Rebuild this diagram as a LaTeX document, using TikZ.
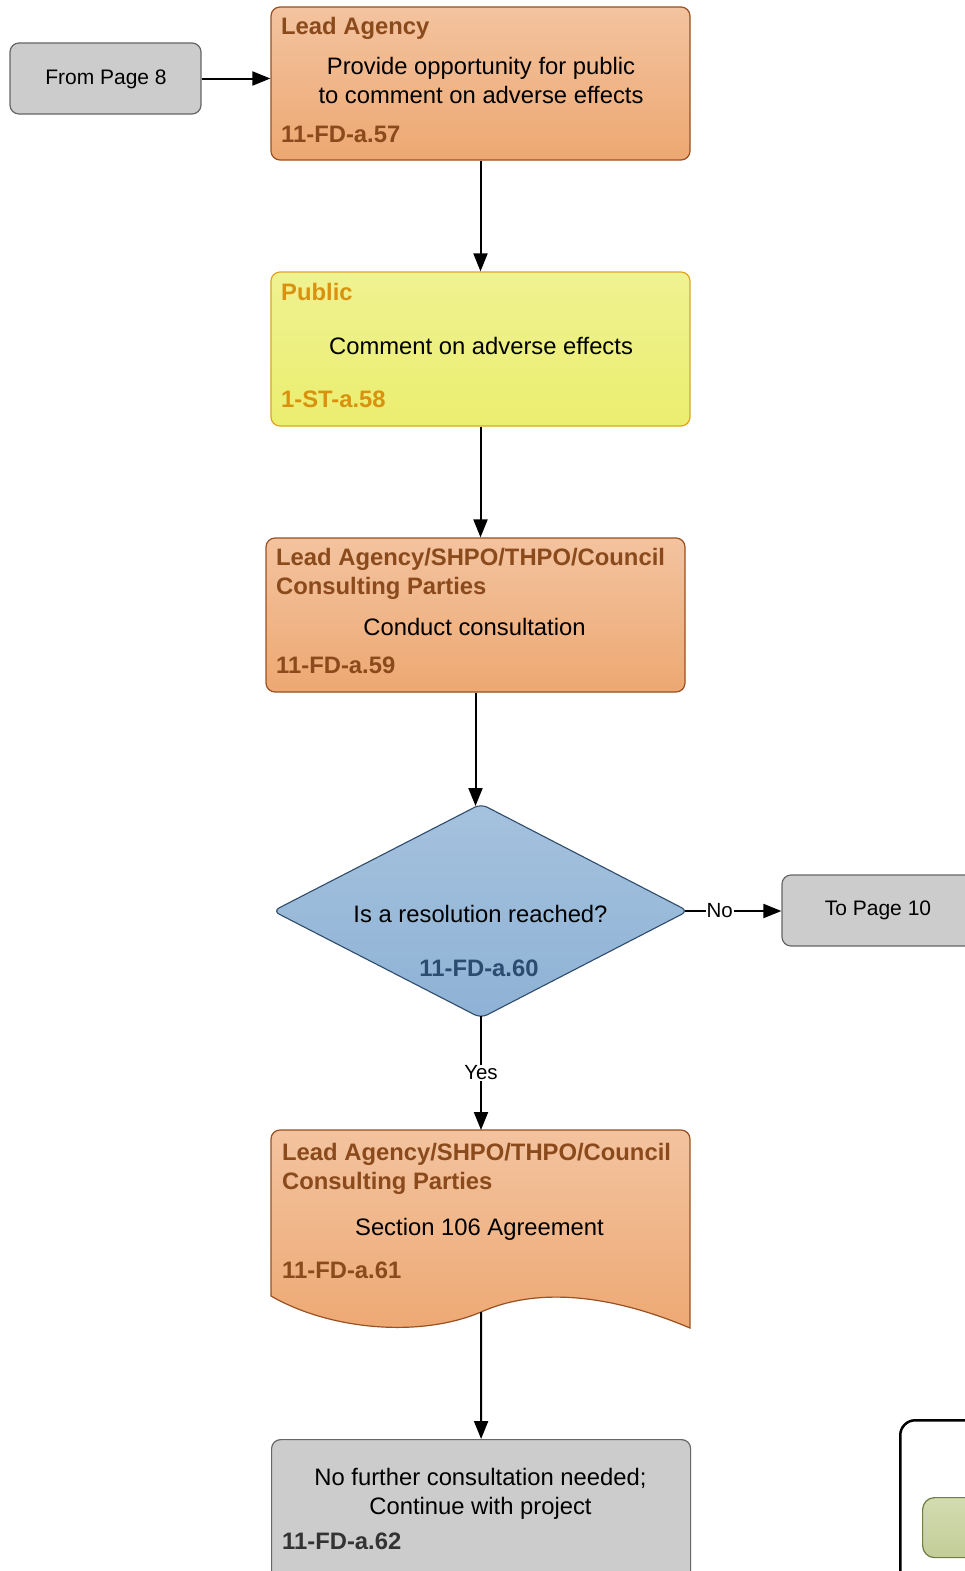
\documentclass[tikz,border=0pt]{standalone}
\usepackage{fontspec}
\setmainfont{Liberation Sans}
\usetikzlibrary{arrows.meta,calc}
\definecolor{orT}{HTML}{F3C39F}
\definecolor{orB}{HTML}{EDA872}
\definecolor{orD}{HTML}{9A5020}
\definecolor{orTx}{HTML}{8A4A1C}
\definecolor{yeT}{HTML}{EFF291}
\definecolor{yeB}{HTML}{EBEE6E}
\definecolor{yeD}{HTML}{E0A520}
\definecolor{yeTx}{HTML}{D8920F}
\definecolor{blT}{HTML}{A5C2DE}
\definecolor{blB}{HTML}{8EB2D5}
\definecolor{blD}{HTML}{2E4B6B}
\definecolor{blTx}{HTML}{2B4C6E}
\definecolor{grF}{HTML}{CCCCCC}
\definecolor{grD}{HTML}{666666}
\definecolor{grTx}{HTML}{333333}
\definecolor{gnT}{HTML}{D3DBB0}
\definecolor{gnB}{HTML}{C3CD98}
\definecolor{gnD}{HTML}{6E7E44}
\begin{document}
\begin{tikzpicture}[x=1pt,y=-1pt,
  box/.style={rectangle, rounded corners=9pt, line width=1.2pt, inner sep=0pt},
  orbox/.style={box, draw=orD, top color=orT, bottom color=orB},
  yebox/.style={box, draw=yeD, top color=yeT, bottom color=yeB},
  grbox/.style={box, draw=grD, fill=grF},
  body/.style={font=\fontsize{23.8}{29}\selectfont, anchor=base, inner sep=0pt},
  small/.style={font=\fontsize{21}{25}\selectfont, anchor=base, inner sep=0pt},
  ttl/.style={font=\fontsize{23.8}{29}\selectfont\bfseries, anchor=base west, inner sep=0pt},
  lbl/.style={font=\fontsize{20.5}{23}\selectfont, fill=white, inner sep=1pt},
  conn/.style={line width=2pt, -{Triangle[length=18pt,width=14pt]}},
]
\useasboundingbox (0,0) rectangle (965,1571);
\fill[white] (0,0) rectangle (965,1571);
\clip (0,0) rectangle (965,1571);

% From Page 8
\node[grbox, minimum width=191pt, minimum height=71pt] (fp) at (105.5,78.5) {};
\node[small] (fpt) at (106,84.5) {From Page 8};

% Box 1
\node[orbox, minimum width=419pt, minimum height=153pt] (b1) at (480.5,83.5) {};
\node[ttl, text=orTx] (b1t) at (281,34.5) {Lead Agency};
\node[body] (b1a) at (481,74.5) {Provide opportunity for public};
\node[body] (b1b) at (481,103.5) {to comment on adverse effects};
\node[ttl, text=orTx] (b1i) at (281,142.5) {11-FD-a.57};

% Box 2
\node[yebox, minimum width=419pt, minimum height=154pt] (b2) at (480.5,349) {};
\node[ttl, text=yeTx] (b2t) at (281,300.5) {Public};
\node[body] (b2a) at (481,354.5) {Comment on adverse effects};
\node[ttl, text=yeTx] (b2i) at (281,407.5) {1-ST-a.58};

% Box 3
\node[orbox, minimum width=419pt, minimum height=154pt] (b3) at (475.5,615) {};
\node[ttl, text=orTx] (b3t) at (276,565.5) {Lead Agency/SHPO/THPO/Council};
\node[ttl, text=orTx] (b3u) at (276,594.5) {Consulting Parties};
\node[body] (b3a) at (474.5,635.5) {Conduct consultation};
\node[ttl, text=orTx] (b3i) at (276,673.5) {11-FD-a.59};

% Diamond
\coordinate (dl) at (273,911);
\coordinate (dt) at (481,804);
\coordinate (dr) at (688,911);
\coordinate (db) at (481,1018);
\coordinate (dtop) at (481,806);
\coordinate (dright) at (685,911);
\coordinate (dbot) at (481,1016);
\path[draw=blD, line width=1.1pt, top color=blT, bottom color=blB, rounded corners=7pt]
  (dl) -- (dt) -- (dr) -- (db) -- cycle;
\node[body] (dq) at (480.5,922.5) {Is a resolution reached?};
\node[body, font=\fontsize{23.8}{29}\selectfont\bfseries, text=blTx] (di) at (479,976.5) {11-FD-a.60};

% To Page 10
\node[grbox, minimum width=192pt, minimum height=71pt] (tp) at (878,910.5) {};
\node[small] (tpt) at (878,915.5) {To Page 10};

% Box 4 (document)
\coordinate (b4top) at (481,1130);
\coordinate (b4bot) at (481,1312);
\path[draw=orD, line width=1.2pt, top color=orT, bottom color=orB]
  (271,1296) -- (271,1139) .. controls (271,1134) and (275,1130) .. (280,1130)
  -- (681,1130) .. controls (686,1130) and (690,1134) .. (690,1139)
  -- (690,1328)
  .. controls (600,1290) and (530,1290) .. (b4bot)
  .. controls (420,1338) and (330,1330) .. cycle;
\node[ttl, text=orTx] (b4t) at (282,1160.5) {Lead Agency/SHPO/THPO/Council};
\node[ttl, text=orTx] (b4u) at (282,1189.5) {Consulting Parties};
\node[body] (b4a) at (479.5,1235.5) {Section 106 Agreement};
\node[ttl, text=orTx] (b4i) at (282,1278.5) {11-FD-a.61};

% Box 5
\node[grbox, anchor=north west, minimum width=419pt, minimum height=160pt] (b5) at (271,1439) {};
\node[body] (b5a) at (480.5,1485.5) {No further consultation needed;};
\node[body] (b5b) at (480.5,1514.5) {Continue with project};
\node[ttl, text=grTx] (b5i) at (282,1549.5) {11-FD-a.62};

% Bottom right partial shapes
\node[rectangle, rounded corners=15pt, draw=black, line width=2.5pt, anchor=north west,
  minimum width=300pt, minimum height=300pt] (br) at (899,1419) {};
\node[rectangle, rounded corners=12pt, draw=gnD, line width=1.2pt, top color=gnT, bottom color=gnB,
  anchor=north west, minimum width=200pt, minimum height=60pt] (gr) at (922,1497) {};

% Connectors
\draw[conn] (fp.east) -- (fp.east -| b1.west);
\draw[conn] (b1.south) -- (b2.north);
\draw[conn] (b2.south) -- (b2.south |- b3.north);
\draw[conn] (b3.south) -- (b3.south |- dtop);
\draw[conn] (dright) -- node[lbl, pos=0.36] (no) {No} (tp.west |- dright);
\draw[conn] (dbot) -- node[lbl, pos=0.5] (yes) {Yes} (b4top);
\draw[conn] (b4bot) -- (b5.north);
\end{tikzpicture}
\end{document}
